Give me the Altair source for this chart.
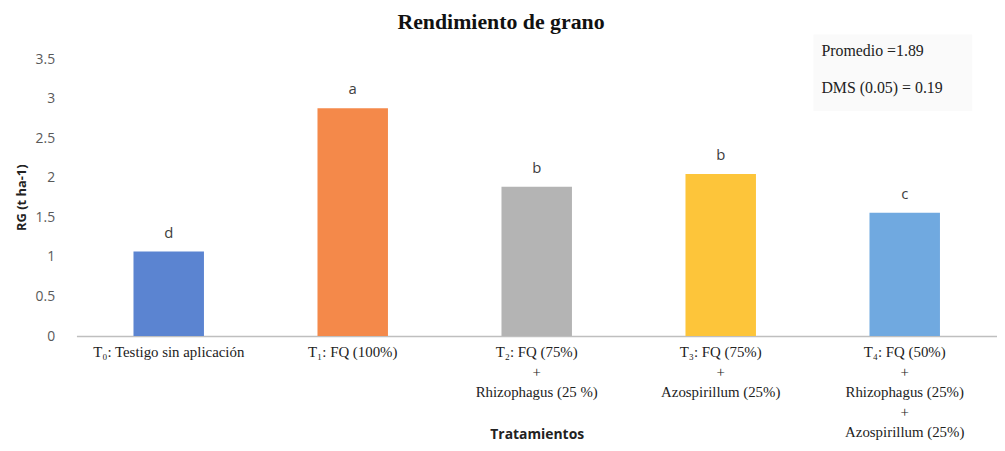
import altair as alt
import pandas as pd

categories = [
    "T₀: Testigo sin aplicación",
    "T₁: FQ (100%)",
    "T₂: FQ (75%)\n+\nRhizophagus (25 %)",
    "T₃: FQ (75%)\n+\nAzospirillum (25%)",
    "T₄: FQ (50%)\n+\nRhizophagus (25%)\n+\nAzospirillum (25%)",
]
values = [1.07, 2.88, 1.89, 2.05, 1.56]
letters = ["d", "a", "b", "b", "c"]
colors = ["#5b84d1", "#f4894a", "#b4b4b4", "#fdc53a", "#70a9e0"]
notes = ["Promedio =1.89", "DMS (0.05) = 0.19"]
y_ticks = [0, 0.5, 1, 1.5, 2, 2.5, 3, 3.5]

df = pd.DataFrame({"cat": categories, "val": values, "let": letters})
notes_df = pd.DataFrame({"note": notes, "row": [0, 1]})

y_scale = alt.Scale(domain=[0, 3.5], nice=False)

x_enc = alt.X(
    "cat:N",
    sort=categories,
    scale=alt.Scale(domain=categories, paddingInner=0.617, paddingOuter=0.31),
    axis=alt.Axis(
        title="Tratamientos",
        labelAngle=0,
        labelExpr="split(datum.label, '\\n')",
        labelFont="Liberation Serif",
        labelFontSize=15,
        labelColor="#222222",
        labelLineHeight=20,
        labelBaseline="top",
        labelPadding=9,
        labelLimit=300,
        ticks=False,
        domainColor="#bfbfbf",
        domainWidth=1.5,
        titleFont="Open Sans",
        titleFontSize=14,
        titleFontWeight="bold",
        titleColor="#222222",
        titleY=99,
        titleBaseline="middle",
    ),
)

y_enc = alt.Y(
    "val:Q",
    scale=y_scale,
    axis=alt.Axis(
        title="RG (t ha-1)",
        values=y_ticks,
        format="~g",
        grid=False,
        domain=False,
        ticks=False,
        labelFont="Open Sans",
        labelFontSize=14,
        labelColor="#595959",
        labelPadding=22,
        titleFont="Open Sans",
        titleFontSize=13,
        titleFontWeight="bold",
        titleColor="#222222",
        titleX=-55,
        titleY=139,
        titleAngle=270,
        titleAlign="center",
        titleBaseline="middle",
    ),
)

bars = alt.Chart(df).mark_bar().encode(
    x=x_enc,
    y=y_enc,
    color=alt.Color("cat:N", scale=alt.Scale(domain=categories, range=colors), legend=None),
)

labels = alt.Chart(df).mark_text(
    font="Open Sans", fontSize=15, color="#404040", dy=-19, baseline="middle"
).encode(
    x=alt.X("cat:N", sort=categories),
    y=alt.Y("val:Q", scale=y_scale, axis=None),
    text="let:N",
)

box = alt.Chart(pd.DataFrame({"a": [0]})).mark_rect(color="#fafafa").encode(
    x=alt.value(743), x2=alt.value(903), y=alt.value(-25), y2=alt.value(52)
)

note_text = alt.Chart(notes_df).mark_text(
    font="Liberation Serif", fontSize=16, color="#222222", align="left", baseline="middle"
).encode(
    x=alt.value(751),
    y=alt.Y("row:Q", scale=alt.Scale(domain=[0, 1], range=[-8, 29], nice=False, zero=False), axis=None),
    text="note:N",
)

chart = (
    alt.layer(box, bars, labels, note_text)
    .resolve_scale(y="independent")
    .properties(
        width=928,
        height=279,
        autosize=alt.AutoSizeParams(type="none"),
        padding={"left": 69, "top": 50, "right": 0, "bottom": 106},
        title=alt.TitleParams(
            "Rendimiento de grano",
            font="Liberation Serif",
            fontSize=22,
            fontWeight="bold",
            color="#111111",
            dx=-36,
            offset=1,
        ),
    )
    .configure_view(stroke=None)
)

chart.save("out.html", embed_options={"renderer": "svg", "actions": False})
